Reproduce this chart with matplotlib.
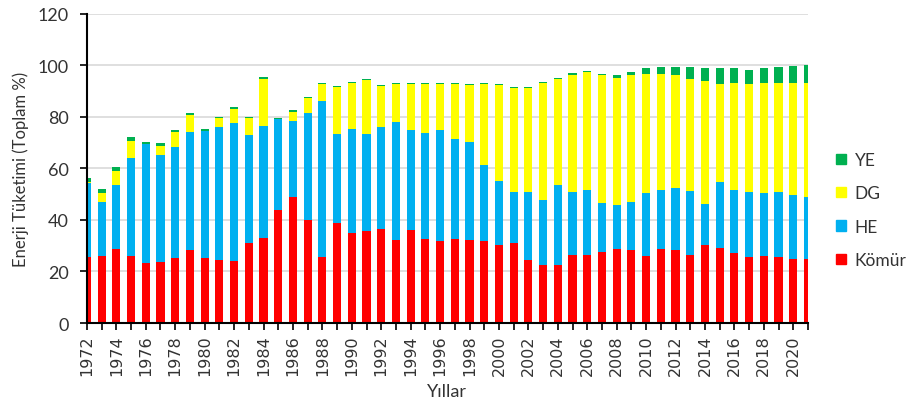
import numpy as np
import matplotlib
matplotlib.use("Agg")
import matplotlib.pyplot as plt
from matplotlib.patches import Patch

plt.rcParams['font.family'] = ['Lato', 'DejaVu Sans']

years = list(range(1972, 2022))

# shares of energy consumption (%)
komur = [25.8, 26.1, 28.9, 26.1, 23.4, 23.8, 25.4, 28.5, 25.4, 24.6,
         24.2, 31.2, 33.0, 43.8, 49.1, 39.9, 25.8, 38.7, 35.0, 35.7,
         36.5, 32.2, 36.0, 32.6, 31.8, 32.6, 32.2, 31.8, 30.3, 31.1,
         24.5, 22.7, 22.7, 26.4, 26.4, 27.6, 28.7, 28.3, 26.0, 28.7,
         28.3, 26.4, 30.3, 29.1, 27.2, 25.6, 26.0, 25.6, 25.0, 25.0]
he = [28.4, 21.0, 24.6, 38.0, 46.1, 41.6, 43.1, 45.5, 49.2, 51.4,
      53.3, 41.8, 43.6, 35.4, 29.3, 41.7, 60.5, 34.6, 40.2, 37.6,
      39.5, 46.0, 39.1, 41.1, 43.3, 38.7, 38.1, 29.7, 24.7, 19.8,
      26.4, 25.1, 30.8, 24.5, 25.3, 19.0, 17.1, 18.7, 24.5, 23.0,
      24.1, 24.9, 15.9, 25.7, 24.5, 25.3, 24.5, 25.3, 24.7, 23.9]
dg = [0.7, 3.4, 5.7, 6.5, 0.0, 3.3, 5.5, 6.9, 0.0, 3.5,
      5.6, 6.5, 18.2, 0.0, 3.7, 5.8, 6.3, 18.2, 17.9, 20.9,
      15.9, 14.5, 17.6, 19.0, 17.6, 21.4, 22.0, 31.2, 37.3, 40.4,
      40.2, 45.3, 41.1, 45.5, 45.6, 49.5, 49.5, 49.1, 46.3, 45.1,
      43.7, 43.6, 47.9, 37.9, 41.4, 41.8, 42.6, 42.2, 43.4, 44.2]
ye = [1.3, 1.4, 1.5, 1.6, 0.8, 1.2, 0.8, 0.8, 0.7, 0.4,
      0.8, 0.6, 0.6, 0.3, 0.4, 0.4, 0.6, 0.5, 0.5, 0.6,
      0.5, 0.5, 0.5, 0.5, 0.5, 0.5, 0.5, 0.5, 0.5, 0.5,
      0.6, 0.5, 0.5, 0.6, 0.6, 0.5, 0.9, 1.2, 2.0, 2.7,
      3.1, 4.3, 4.7, 6.1, 5.7, 5.7, 5.7, 6.1, 6.5, 6.9]

colors = {'Kömür': '#FF0000', 'HE': '#00B0F0', 'DG': '#FFFF00', 'YE': '#00B050'}
txt = '#333333'

fig = plt.figure(figsize=(9.15, 4.02), dpi=100)
ax = fig.add_axes([0.095, 0.194, 0.788, 0.769])

x = np.array(years)
w = 0.55
b1 = np.array(komur)
b2 = b1 + np.array(he)
b3 = b2 + np.array(dg)
ax.bar(x, komur, w, color=colors['Kömür'], zorder=2)
ax.bar(x, he, w, bottom=b1, color=colors['HE'], zorder=2)
ax.bar(x, dg, w, bottom=b2, color=colors['DG'], zorder=2)
ax.bar(x, ye, w, bottom=b3, color=colors['YE'], zorder=2)

ax.set_xlim(1972, 2021)
ax.set_ylim(0, 120)
ax.set_yticks(range(0, 121, 20))
ax.set_xticks(years, minor=True)
ax.set_xticks(years[::2])
ax.set_xticklabels([str(y) for y in years[::2]], rotation=90,
                   fontsize=11.5, family='DejaVu Sans', color=txt)
ax.tick_params(axis='y', labelsize=13, length=5, width=1.2, pad=8,
               labelcolor=txt)
ax.tick_params(axis='x', which='both', length=5, width=1.2, pad=3)
ax.grid(axis='y', color='#D9D9D9', linewidth=1.2, zorder=0)
for s in ['top', 'right']:
    ax.spines[s].set_visible(False)
for s in ['left', 'bottom']:
    ax.spines[s].set_linewidth(1.5)

ax.set_ylabel('Enerji Tüketimi (Toplam %)', fontsize=12, color=txt, labelpad=6)
ax.set_xlabel('Yıllar', fontsize=13, labelpad=6, color=txt)

handles = [Patch(color=colors[k]) for k in ['YE', 'DG', 'HE', 'Kömür']]
fig.legend(handles, ['YE', 'DG', 'HE', 'Kömür'], loc='center left',
           bbox_to_anchor=(0.914, 0.475), frameon=False, fontsize=12.5,
           handlelength=0.55, handleheight=0.55, handletextpad=0.5,
           labelspacing=1.0, borderpad=0, borderaxespad=0, labelcolor=txt)

fig.savefig('out.png', dpi=100)
